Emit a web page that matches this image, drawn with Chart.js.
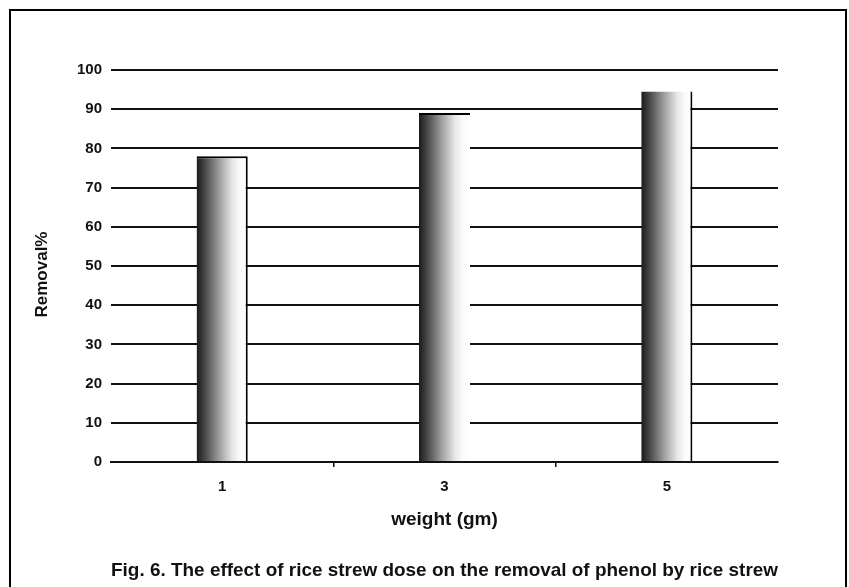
<!DOCTYPE html>
<html>
<head>
<meta charset="utf-8">
<script src="https://cdn.jsdelivr.net/npm/chart.js@4.4.1/dist/chart.umd.min.js"></script>
<style>
  html, body { margin: 0; padding: 0; background: #fff; }
  #wrap { width: 849px; height: 587px; }
</style>
</head>
<body>
<div id="wrap"><canvas id="c" width="849" height="587"></canvas></div>
<script>
// Rice straw dose vs. phenol removal
const weights = ['1', '3', '5'];
const removal = [78, 89, 94.5];
const yTicks = [0, 10, 20, 30, 40, 50, 60, 70, 80, 90, 100];

const BAR_PCT = 0.23;
const INK = '#111';
const FONT = 'Liberation Sans, Arial, sans-serif';

// Cylinder-like horizontal shading for each bar
function barGradient(ctx) {
  const chart = ctx.chart;
  const xs = chart.scales.x;
  if (!xs || !chart.chartArea) return '#888';
  const center = xs.getPixelForValue(ctx.dataIndex);
  const w = (xs.width / weights.length) * BAR_PCT;
  const g = chart.ctx.createLinearGradient(center - w / 2, 0, center + w / 2, 0);
  g.addColorStop(0, '#1a1a1a');
  g.addColorStop(0.15, '#444444');
  g.addColorStop(0.45, '#a0a0a0');
  g.addColorStop(0.7, '#e6e6e6');
  g.addColorStop(0.85, '#fbfbfb');
  g.addColorStop(1, '#ffffff');
  return g;
}

// Frame around the figure
const framePlugin = {
  id: 'frame',
  afterDraw(chart) {
    const c = chart.ctx;
    c.save();
    c.strokeStyle = '#000';
    c.lineWidth = 2;
    c.beginPath();
    c.moveTo(10, 587);
    c.lineTo(10, 10);
    c.lineTo(846, 10);
    c.lineTo(846, 587);
    c.stroke();
    c.restore();
  }
};

new Chart(document.getElementById('c'), {
  type: 'bar',
  data: {
    labels: weights,
    datasets: [{
      data: removal,
      backgroundColor: barGradient,
      borderColor: '#000',
      borderWidth: [
        { top: 2, right: 2, left: 0, bottom: 0 },
        { top: 2, right: 0, left: 0, bottom: 0 },
        { top: 0, right: 2, left: 0, bottom: 0 }
      ],
      borderSkipped: false,
      barPercentage: BAR_PCT,
      categoryPercentage: 1
    }]
  },
  options: {
    responsive: false,
    animation: false,
    devicePixelRatio: 1,
    layout: { padding: { left: 0, right: 71, top: 70, bottom: 0 } },
    plugins: {
      legend: { display: false },
      tooltip: { enabled: false },
      title: {
        display: true,
        position: 'bottom',
        fullSize: false,
        text: 'Fig. 6. The effect of rice strew dose on the removal of phenol by rice strew',
        color: INK,
        font: { family: FONT, size: 19, weight: 'bold' },
        padding: { top: 27.6, bottom: 4.6 }
      }
    },
    scales: {
      x: {
        afterFit(s) { s.height = 70; },
        grid: {
          offset: true,
          drawOnChartArea: false,
          drawTicks: true,
          tickLength: 5,
          lineWidth: 1.5,
          // only the dividers between categories get a tick mark
          color: (ctx) => (ctx.type !== 'tick' || ctx.index === 0) ? 'rgba(0,0,0,0)' : INK
        },
        border: { display: true, color: INK, width: 2 },
        ticks: {
          color: INK,
          padding: 11,
          font: { family: FONT, size: 15, weight: 'bold' }
        },
        title: {
          display: true,
          text: 'weight (gm)',
          color: INK,
          font: { family: FONT, size: 19, weight: 'bold' },
          padding: { top: 0, bottom: 0.6 }
        }
      },
      y: {
        min: 0,
        max: 100,
        afterFit(s) { s.width = 111; },
        afterBuildTicks(s) { s.ticks = yTicks.map(v => ({ value: v })); },
        grid: {
          drawTicks: false,
          color: INK,
          lineWidth: 2
        },
        border: { display: false },
        ticks: {
          color: INK,
          padding: 9,
          font: { family: FONT, size: 15, weight: 'bold' }
        },
        title: {
          display: true,
          text: 'Removal%\u2002\u2002',
          color: INK,
          font: { family: FONT, size: 17, weight: 'bold' },
          padding: { top: 31.8, bottom: 0 }
        }
      }
    }
  },
  plugins: [framePlugin]
});
</script>
</body>
</html>
